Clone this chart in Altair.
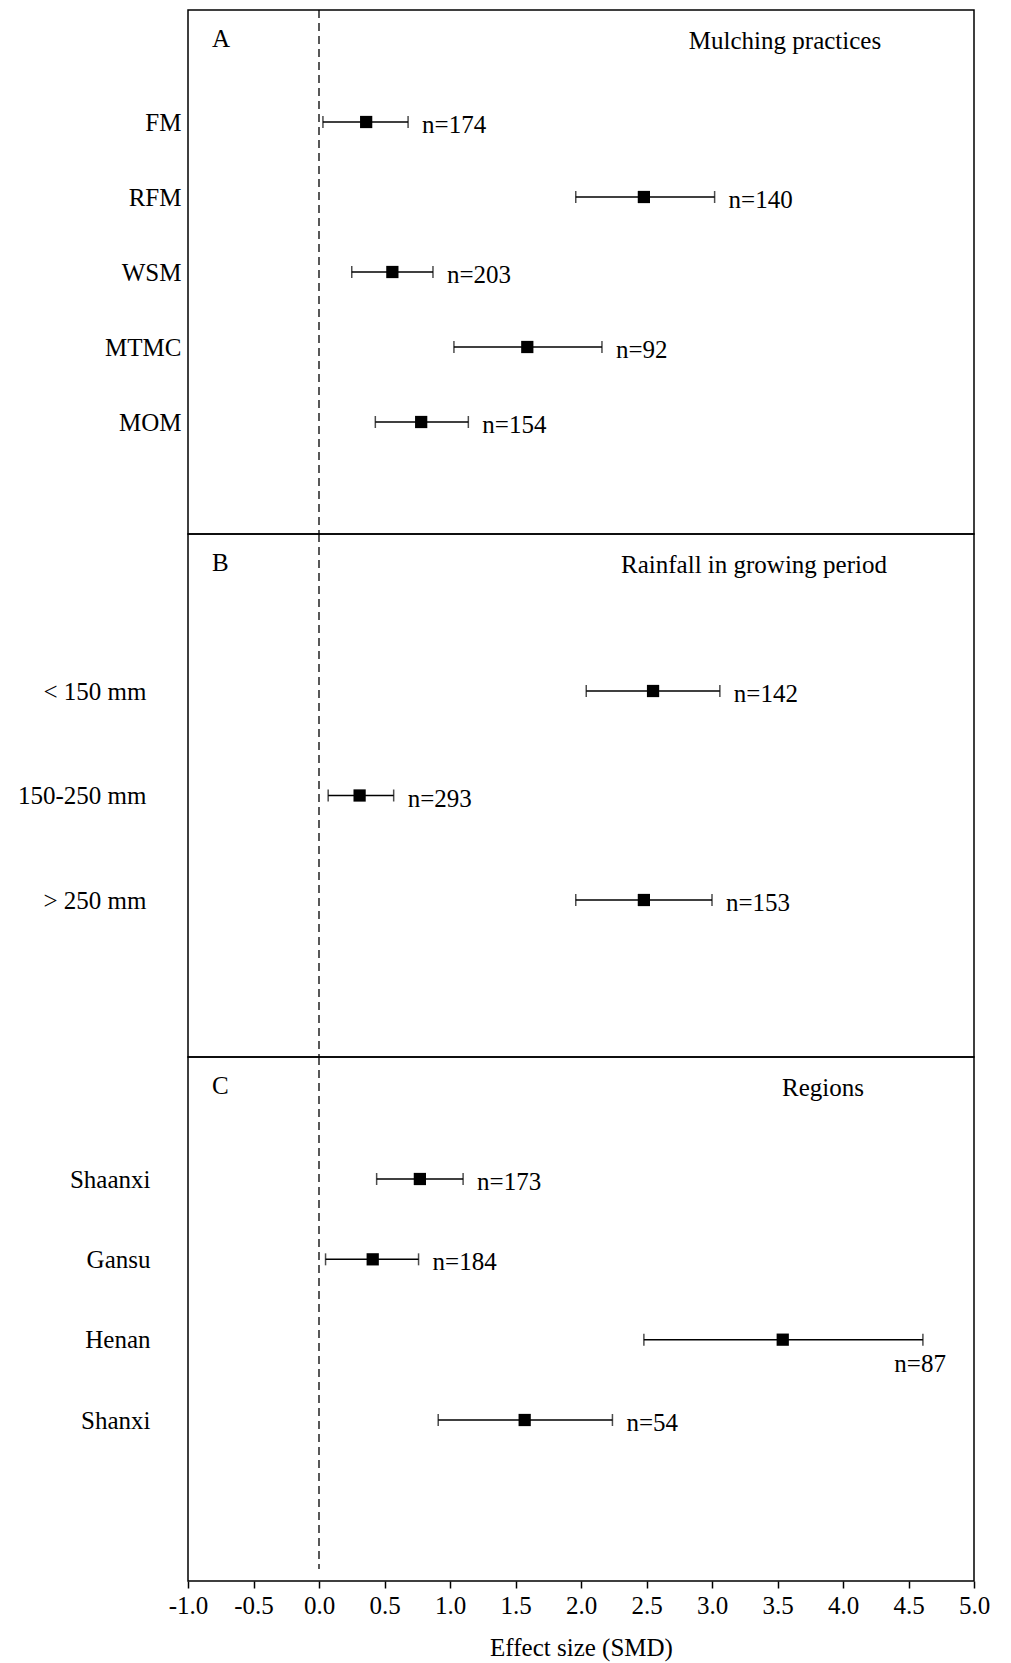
import altair as alt
import pandas as pd

FONT = "Liberation Serif"

x_ticks = [-1.0, -0.5, 0.0, 0.5, 1.0, 1.5, 2.0, 2.5, 3.0, 3.5, 4.0, 4.5, 5.0]

# Panel A: Mulching practices
a_cats = ["FM", "RFM", "WSM", "MTMC", "MOM"]
a_mean = [0.36, 2.48, 0.56, 1.59, 0.78]
a_lo = [0.03, 1.96, 0.25, 1.03, 0.43]
a_hi = [0.68, 3.02, 0.87, 2.16, 1.14]
a_n = [174, 140, 203, 92, 154]

# Panel B: Rainfall in growing period
b_cats = ["< 150 mm", "150-250 mm", "> 250 mm"]
b_mean = [2.55, 0.31, 2.48]
b_lo = [2.04, 0.07, 1.96]
b_hi = [3.06, 0.57, 3.00]
b_n = [142, 293, 153]

# Panel C: Regions
c_cats = ["Shaanxi", "Gansu", "Henan", "Shanxi"]
c_mean = [0.77, 0.41, 3.54, 1.57]
c_lo = [0.44, 0.05, 2.48, 0.91]
c_hi = [1.10, 0.76, 4.61, 2.24]
c_n = [173, 184, 87, 54]

WIDTH = 786
LABEL_EXPR = ("datum.value < 0 ? '-' + format(-datum.value, '.1f') "
              ": format(datum.value, '.1f')")


def panel(cats, mean, lo, hi, n, letter, title, title_x, height,
          label_pad, yrange, show_x, below=(), zero_gap=0):
    df = pd.DataFrame({"cat": cats, "mean": mean, "lo": lo, "hi": hi,
                       "label": [f"n={v}" for v in n]})
    xs = alt.Scale(domain=[-1, 5], nice=False, zero=False)
    if show_x:
        xaxis = alt.Axis(values=x_ticks, labelExpr=LABEL_EXPR, title="Effect size (SMD)",
                         grid=False, tickSize=7, tickWidth=1.5, tickColor="black",
                         domain=False, labelPadding=5, labelFlush=False,
                         titlePadding=17, labelFontSize=25)
    else:
        xaxis = None
    ys = alt.Scale(type="point", domain=cats, range=yrange, padding=0)
    yaxis = alt.Axis(title=None, domain=False, ticks=False, grid=False,
                     labelPadding=label_pad, labelFontSize=25)
    X = lambda f: alt.X(f, type="quantitative", scale=xs, axis=xaxis)
    Y = alt.Y("cat:N", scale=ys, axis=yaxis, sort=None)

    base = alt.Chart(df)
    zenc = {"x": X("z")}
    if zero_gap:
        zenc["y"] = alt.value(0)
        zenc["y2"] = alt.value(height - zero_gap)
    zero = alt.Chart(pd.DataFrame({"z": [0.0]})).mark_rule(
        strokeDash=[8, 5], color="black", strokeWidth=1.3
    ).encode(**zenc)
    ci = base.mark_rule(color="black", strokeWidth=1.5).encode(x=X("lo"), x2="hi", y=Y)
    cap_lo = base.mark_tick(color="black", size=12, thickness=1.5, orient="vertical").encode(x=X("lo"), y=Y)
    cap_hi = base.mark_tick(color="black", size=12, thickness=1.5, orient="vertical").encode(x=X("hi"), y=Y)
    pt = base.mark_square(size=150, color="black", opacity=1, filled=True).encode(x=X("mean"), y=Y)
    lab = base.transform_filter(
        ~alt.FieldOneOfPredicate(field="cat", oneOf=list(below) + ["__none__"])
    ).mark_text(align="left", baseline="middle", dx=14, dy=3, font=FONT,
                fontSize=25, color="black").encode(x=X("hi"), y=Y, text="label")
    layers = [zero, ci, cap_lo, cap_hi, pt, lab]
    if below:
        lab2 = base.transform_filter(
            alt.FieldOneOfPredicate(field="cat", oneOf=list(below))
        ).mark_text(align="right", baseline="middle", dx=23, dy=24, font=FONT,
                    fontSize=25, color="black").encode(x=X("hi"), y=Y, text="label")
        layers.append(lab2)
    let = alt.Chart(pd.DataFrame({"t": [letter]})).mark_text(
        align="left", baseline="middle", font=FONT, fontSize=25, color="black"
    ).encode(x=alt.value(24), y=alt.value(29), text="t")
    tit = alt.Chart(pd.DataFrame({"t": [title]})).mark_text(
        align="center", baseline="middle", font=FONT, fontSize=25, color="black"
    ).encode(x=alt.value(title_x), y=alt.value(31), text="t")
    layers += [let, tit]
    return alt.layer(*layers).properties(width=WIDTH, height=height)


pA = panel(a_cats, a_mean, a_lo, a_hi, a_n, "A", "Mulching practices", 597,
           524, 7, [112, 412], False)
pB = panel(b_cats, b_mean, b_lo, b_hi, b_n, "B", "Rainfall in growing period", 566,
           523, 42, [157, 366], False)
pC = panel(c_cats, c_mean, c_lo, c_hi, c_n, "C", "Regions", 635,
           524, 38, [122, 363], True, below=("Henan",), zero_gap=12)

chart = alt.vconcat(pA, pB, pC, spacing=0, bounds="flush").properties(
    padding={"left": 8, "top": 0, "right": 5, "bottom": 5}
).configure_view(
    stroke="black", strokeWidth=1.5
).configure_axis(
    labelFont=FONT, titleFont=FONT, labelColor="black", titleColor="black",
    titleFontSize=25, titleFontWeight="normal"
).configure_concat(spacing=0)

chart.save("out.html", embed_options={"renderer": "svg", "actions": False})
